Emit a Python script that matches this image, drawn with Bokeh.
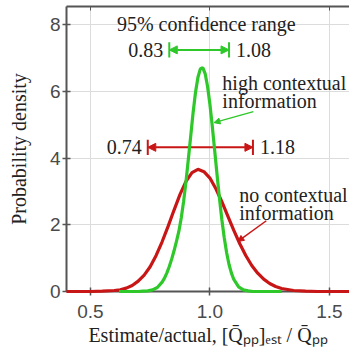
from bokeh.plotting import figure
from bokeh.models import (LinearAxis, FixedTicker, NumeralTickFormatter, Label,
                          Arrow, NormalHead)
from bokeh.embed import file_html
from bokeh.resources import INLINE

# ---- data ----
red_x = [0.40, 0.50, 0.55, 0.60, 0.625, 0.65, 0.675, 0.70, 0.725, 0.75, 0.775, 0.80,
         0.825, 0.85, 0.875, 0.90, 0.925, 0.95, 0.975, 1.00, 1.025, 1.05, 1.075, 1.10,
         1.125, 1.15, 1.175, 1.20, 1.225, 1.25, 1.275, 1.30, 1.35, 1.40, 1.45, 1.60]
red_y = [0.00, 0.00, 0.01, 0.03, 0.05, 0.10, 0.18, 0.31, 0.49, 0.74, 1.08, 1.49,
         1.95, 2.44, 2.91, 3.30, 3.56, 3.66, 3.59, 3.40, 3.08, 2.69, 2.26, 1.83,
         1.43, 1.08, 0.78, 0.55, 0.37, 0.24, 0.15, 0.09, 0.03, 0.01, 0.00, 0.00]

green_x = [0.62, 0.70, 0.72, 0.74, 0.76, 0.78, 0.80, 0.81, 0.82, 0.83, 0.84, 0.85,
           0.86, 0.87, 0.88, 0.89, 0.90, 0.91, 0.92, 0.93, 0.94, 0.95, 0.96, 0.97,
           0.98, 0.99, 1.00, 1.01, 1.02, 1.03, 1.04, 1.05, 1.06, 1.07, 1.08, 1.09,
           1.10, 1.12, 1.14, 1.16, 1.18, 1.30]
green_y = [0.00, 0.00, 0.01, 0.02, 0.05, 0.12, 0.28, 0.40, 0.56, 0.75, 0.97, 1.22,
           1.50, 1.80, 2.20, 2.70, 3.30, 3.98, 4.68, 5.38, 5.98, 6.42, 6.67, 6.71,
           6.53, 6.15, 5.61, 4.95, 4.22, 3.49, 2.79, 2.15, 1.61, 1.16, 0.81, 0.55,
           0.36, 0.14, 0.05, 0.02, 0.00, 0.00]

# 95% confidence ranges: [high contextual, no contextual]
ci_low = [0.83, 0.74]
ci_high = [1.08, 1.18]
ci_labels_low = ["0.83", "0.74"]
ci_labels_high = ["1.08", "1.18"]

x_ticks = [0.5, 1.0, 1.5]
y_ticks = [0, 2, 4, 6, 8]

GREEN = "#2ec82a"
RED = "#c81616"
AXIS = "#555555"
SERIF = "Liberation Serif"
SANS = "Liberation Sans"

p = figure(width=349, height=356, x_range=(0.4, 1.584), y_range=(0, 8.54),
           output_backend="svg", toolbar_location=None,
           min_border_left=66, min_border_right=0, min_border_top=6,
           min_border_bottom=65)
p.outline_line_color = None
p.background_fill_color = "white"
p.border_fill_color = "white"

# grids
p.xgrid.ticker = FixedTicker(ticks=x_ticks)
p.ygrid.ticker = FixedTicker(ticks=y_ticks)
for g in (p.xgrid, p.ygrid):
    g.grid_line_color = "#dcdcdc"
    g.grid_line_width = 1

# axes
for ax in (p.xaxis[0], p.yaxis[0]):
    ax.axis_line_color = AXIS
    ax.axis_line_width = 2
    ax.major_tick_line_color = AXIS
    ax.major_tick_line_width = 1.5
    ax.major_tick_in = 4
    ax.major_tick_out = 4
    ax.minor_tick_line_color = None
    ax.major_label_text_font = SANS
    ax.major_label_text_font_size = "19px"
    ax.major_label_text_color = "#4a4a4a"
    ax.axis_label_text_font = SERIF
    ax.axis_label_text_font_size = "20px"
    ax.axis_label_text_font_style = "normal"
    ax.axis_label_text_color = "#222222"

p.xaxis[0].ticker = FixedTicker(ticks=x_ticks)
p.xaxis[0].formatter = NumeralTickFormatter(format="0.0")
p.xaxis[0].major_label_standoff = 9
p.xaxis[0].axis_label = "Estimate/actual, [Q\u0304\u209a\u209a]\u2091\u209b\u209c / Q\u0304\u209a\u209a"
p.xaxis[0].axis_label_standoff = 3

p.yaxis[0].ticker = FixedTicker(ticks=y_ticks)
p.yaxis[0].major_label_standoff = 2
p.yaxis[0].axis_label = "Probability density"
p.yaxis[0].axis_label_standoff = 17

top = LinearAxis(ticker=FixedTicker(ticks=x_ticks), major_label_text_font_size="0px",
                 major_label_standoff=0, major_tick_in=4, major_tick_out=0,
                 axis_line_color=AXIS, axis_line_width=2,
                 major_tick_line_color=AXIS, minor_tick_line_color=None)
top.major_label_overrides = {t: "" for t in x_ticks}
p.add_layout(top, "above")

# curves (drawn above the axes, like the reference)
p.line(red_x, red_y, line_color=RED, line_width=3.2, level="overlay")
p.line(green_x, green_y, line_color=GREEN, line_width=3.2, level="overlay")

# confidence range arrows
arrow_y = [7.24, 4.32]
colors = [GREEN, RED]
bar_half = 0.23
for lo, hi, yy, c, tl, th in zip(ci_low, ci_high, arrow_y, colors,
                                  ci_labels_low, ci_labels_high):
    p.add_layout(Arrow(x_start=lo, y_start=yy, x_end=hi, y_end=yy,
                       line_color=c, line_width=2,
                       start=NormalHead(size=8, fill_color=c, line_color=c, line_width=1),
                       end=NormalHead(size=8, fill_color=c, line_color=c, line_width=1)))
    p.segment(x0=[lo, hi], y0=[yy - bar_half] * 2, x1=[lo, hi], y1=[yy + bar_half] * 2,
              line_color=c, line_width=2)
    p.add_layout(Label(x=lo, y=yy, text=tl, x_offset=-6, text_align="right",
                       text_baseline="middle", text_font=SERIF,
                       text_font_size="20px", text_color="#222222"))
    p.add_layout(Label(x=hi, y=yy, text=th, x_offset=7, text_align="left",
                       text_baseline="middle", text_font=SERIF,
                       text_font_size="20px", text_color="#222222"))

def txt(x, y, s, align="left"):
    p.add_layout(Label(x=x, y=y, text=s, text_align=align, text_baseline="middle",
                       text_font=SERIF, text_font_size="20px", text_color="#222222"))

txt(0.985, 8.03, "95% confidence range", "center")
txt(1.052, 6.24, "high contextual")
txt(1.052, 5.70, "information")
txt(1.123, 2.90, "no contextual")
txt(1.123, 2.36, "information")

# leader arrows
p.add_layout(Arrow(x_start=1.182, y_start=5.39, x_end=1.017, y_end=5.06,
                   line_color=GREEN, line_width=1.5,
                   end=NormalHead(size=6, fill_color=GREEN, line_color=GREEN, line_width=1)))
p.add_layout(Arrow(x_start=1.236, y_start=2.12, x_end=1.117, y_end=1.50,
                   line_color=RED, line_width=1.5,
                   end=NormalHead(size=6, fill_color=RED, line_color=RED, line_width=1)))

open("out.html", "w").write(file_html(p, INLINE))
